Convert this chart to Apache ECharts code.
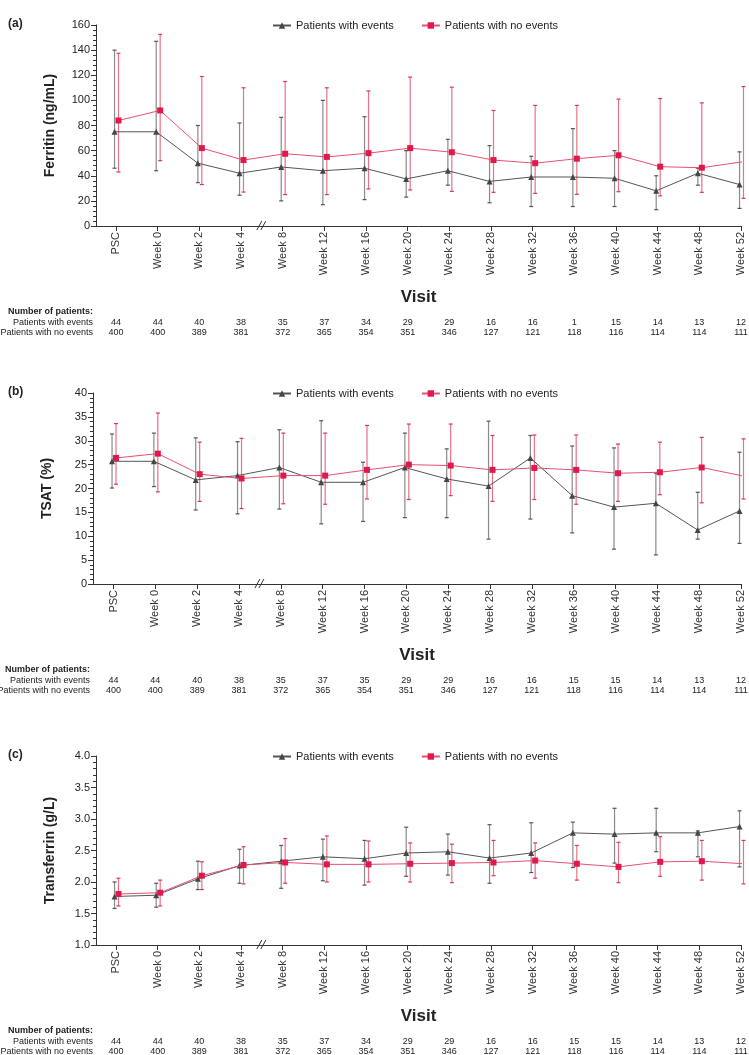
<!DOCTYPE html>
<html>
<head>
<meta charset="utf-8">
<script src="https://cdn.jsdelivr.net/npm/echarts@6/dist/echarts.min.js"></script>
<style>
html,body{margin:0;padding:0;background:#fff;}
#chart{width:749px;height:1055px;}
</style>
</head>
<body>
<div id="chart"></div>
<script>
const visits = ['PSC','Week 0','Week 2','Week 4','Week 8','Week 12','Week 16','Week 20','Week 24','Week 28','Week 32','Week 36','Week 40','Week 44','Week 48','Week 52'];
const seriesEvents = 'Patients with events';
const seriesNoEvents = 'Patients with no events';

// (a) Ferritin (ng/mL)
const ferEvMean = [75,75,50,42,47,44,46,37.5,44,35.5,39,39,38,28,42,33];
const ferEvLow  = [46,44,34.5,24.5,20,17,21,23,32.5,18.5,15.5,15.5,15.5,13,32.5,14];
const ferEvHigh = [140,147,80,82,86.5,100,87,60,69,64,55.5,77.5,60,40,46,59];
const ferNoMean = [84,92,62,52.5,57.5,55,58,62,58.7,52.5,50,53.6,56.3,47.2,46.4,51.2];
const ferNoLow  = [43,52,33,27,25,25,29.5,28.7,27.6,26.8,26,25.2,27.3,24,26.8,22];
const ferNoHigh = [137.5,152.5,119,110,115,110,107.5,118.5,110.5,92,96,96,101,101.5,98,111];

// (b) TSAT (%)
const tsEvMean = [25.7,25.7,21.8,22.7,24.4,21.3,21.3,24.4,22.0,20.5,26.4,18.5,16.1,16.9,11.3,15.3];
const tsEvLow  = [20.1,20.4,15.5,14.7,15.7,12.6,13.1,13.9,13.9,9.4,13.6,10.7,7.3,6.1,9.4,8.5];
const tsEvHigh = [31.4,31.6,30.6,29.8,32.3,34.2,25.5,31.6,28.3,34.1,31.1,28.9,28.5,23.2,19.2,27.6];
const tsNoMean = [26.4,27.3,23.0,22.1,22.7,22.7,23.9,25.0,24.8,23.9,24.3,23.9,23.2,23.4,24.4,22.6];
const tsNoLow  = [20.9,19.3,17.3,15.8,16.8,16.7,17.8,17.7,18.5,17.3,17.7,16.7,17.3,18.7,17.0,17.8];
const tsNoHigh = [33.6,35.8,29.7,30.5,31.6,31.6,33.2,33.5,33.5,31.1,31.2,31.2,29.3,29.7,30.7,30.4];

// (c) Transferrin (g/L)
const trEvMean = [1.77,1.79,2.05,2.26,2.33,2.40,2.37,2.46,2.48,2.38,2.46,2.78,2.76,2.78,2.78,2.88];
const trEvLow  = [1.58,1.60,1.88,1.98,1.90,2.02,1.95,2.09,2.11,1.98,2.15,2.23,2.30,2.48,2.40,2.24];
const trEvHigh = [2.00,1.98,2.33,2.52,2.58,2.68,2.66,2.87,2.76,2.91,2.94,2.95,3.17,3.17,2.81,3.13];
const trNoMean = [1.81,1.83,2.10,2.27,2.31,2.28,2.28,2.29,2.30,2.31,2.34,2.29,2.24,2.32,2.33,2.29];
const trNoLow  = [1.62,1.62,1.88,1.97,1.98,2.00,2.00,2.00,1.99,2.10,2.06,2.03,1.99,2.09,2.03,1.97];
const trNoHigh = [2.06,2.03,2.32,2.56,2.69,2.73,2.65,2.62,2.60,2.66,2.62,2.58,2.63,2.72,2.66,2.66];

// Number of patients
const nEventsA = [44,44,40,38,35,37,34,29,29,16,16,1,15,14,13,12];
const nNoEventsA = [400,400,389,381,372,365,354,351,346,127,121,118,116,114,114,111];
const nEventsB = [44,44,40,38,35,37,35,29,29,16,16,15,15,14,13,12];
const nNoEventsB = [400,400,389,381,372,365,354,351,346,127,121,118,116,114,114,111];
const nEventsC = [44,44,40,38,35,37,34,29,29,16,16,15,15,14,13,12];
const nNoEventsC = [400,400,389,381,372,365,354,351,346,127,121,118,116,114,114,111];

// y-axis tick settings
const yTicksA = {min:0, max:160, interval:20};
const yTicksB = {min:0, max:40, interval:5};
const yTicksC = {min:1.0, max:4.0, interval:0.5};

const FONT = 'Liberation Sans, Arial, sans-serif';
const NARROW = 'Liberation Sans Narrow, Arial Narrow, Liberation Sans, sans-serif';
const GRAY_LINE = '#555555', GRAY_MARK = '#454545', GRAY_ERR = '#8a8a8a';
const RED_LINE = '#e5506f', RED_MARK = '#e0184b', RED_ERR = '#e8708a';
const idx = visits.map((v,i)=>i);

const panels = [
  {tag:'(a)', top:25, height:201, left:96, xmin:-0.48, yname:'Ferritin (ng/mL)', yt:yTicksA, dec:0,
   ev:[ferEvMean,ferEvLow,ferEvHigh], no:[ferNoMean,ferNoLow,ferNoHigh], nE:nEventsA, nN:nNoEventsA},
  {tag:'(b)', top:393, height:191, left:93, xmin:-0.49, yname:'TSAT (%)', yt:yTicksB, dec:0,
   ev:[tsEvMean,tsEvLow,tsEvHigh], no:[tsNoMean,tsNoLow,tsNoHigh], nE:nEventsB, nN:nNoEventsB},
  {tag:'(c)', top:756, height:189, left:96, xmin:-0.48, yname:'Transferrin (g/L)', yt:yTicksC, dec:1,
   ev:[trEvMean,trEvLow,trEvHigh], no:[trNoMean,trNoLow,trNoHigh], nE:nEventsC, nN:nNoEventsC}
];

function errRender(color, capColor){
  return function(params, api){
    const x = api.value(0), lo = api.value(1), hi = api.value(2);
    const a = api.coord([x, lo]), b = api.coord([x, hi]);
    const w = 2;
    return {type:'group', children:[
      {type:'line', shape:{x1:a[0],y1:a[1],x2:b[0],y2:b[1]}, style:{stroke:color, lineWidth:1.2}},
      {type:'line', shape:{x1:a[0]-w,y1:a[1],x2:a[0]+w,y2:a[1]}, style:{stroke:capColor, lineWidth:1.2}},
      {type:'line', shape:{x1:b[0]-w,y1:b[1],x2:b[0]+w,y2:b[1]}, style:{stroke:capColor, lineWidth:1.2}}
    ]};
  };
}
function breakRender(params, api){
  const p = api.coord([api.value(0), api.value(1)]);
  return {type:'group', children:[
    {type:'line', shape:{x1:p[0]-5,y1:p[1]+4,x2:p[0]+0,y2:p[1]-5}, style:{stroke:'#333', lineWidth:1}},
    {type:'line', shape:{x1:p[0]-1,y1:p[1]+4,x2:p[0]+4,y2:p[1]-5}, style:{stroke:'#333', lineWidth:1}}
  ]};
}

const option = {animation:false, backgroundColor:'#fff', textStyle:{fontFamily:FONT},
  grid:[], xAxis:[], yAxis:[], series:[], legend:[], graphic:[]};

panels.forEach((P,k)=>{
  option.grid.push({left:P.left, right:8, top:P.top, height:P.height, containLabel:false, outerBoundsMode:'none'});
  const base = {gridIndex:k, type:'value', min:P.xmin, max:15, splitLine:{show:false}};
  option.xAxis.push(Object.assign({}, base, {
    axisLine:{onZero:false, lineStyle:{color:'#333', width:1}},
    axisTick:{customValues:idx, length:5, lineStyle:{color:'#333'}},
    axisLabel:{customValues:idx, rotate:90, margin:6, fontSize:11, color:'#333', fontFamily:FONT,
      formatter:v=>visits[Math.round(v)]},
    name:'Visit', nameLocation:'middle', nameGap:63,
    nameTextStyle:{fontWeight:'bold', fontSize:17, color:'#222', fontFamily:FONT}
  }));
  const countAxis = (offset, name, arr, bold) => Object.assign({}, base, {
    position:'bottom', offset:offset,
    axisLine:{show:false, onZero:false}, axisTick:{show:false},
    axisLabel:{show:!!arr, customValues:idx, margin:0, verticalAlign:'middle', fontSize:9, color:'#222',
      fontFamily:NARROW, formatter:v=>arr ? String(arr[Math.round(v)]) : ''},
    name:name, nameLocation:'start', nameGap:3,
    nameTextStyle:{fontSize:9, color:'#222', fontFamily:NARROW, fontWeight:bold?'bold':'normal',
      align:'right', verticalAlign:'middle'}
  });
  option.xAxis.push(countAxis(86, 'Number of patients:', null, true));
  option.xAxis.push(countAxis(97, 'Patients with events', P.nE, false));
  option.xAxis.push(countAxis(107, 'Patients with no events', P.nN, false));

  option.yAxis.push({gridIndex:k, type:'value', min:P.yt.min, max:P.yt.max, interval:P.yt.interval,
    splitLine:{show:false},
    axisLine:{show:true, onZero:false, lineStyle:{color:'#333', width:1}},
    axisTick:{show:true, length:5, lineStyle:{color:'#333'}},
    minorTick:{show:true, splitNumber:5, length:3, lineStyle:{color:'#333'}},
    axisLabel:{fontSize:11, color:'#222', margin:6, fontFamily:FONT, formatter:v=>v.toFixed(P.dec)},
    name:P.yname, nameLocation:'middle', nameGap:39,
    nameTextStyle:{fontWeight:'bold', fontSize:14, color:'#222', fontFamily:FONT}
  });

  const xi = k*4;
  const evX = i => i - 0.035, noX = i => i + 0.06;
  option.series.push({type:'custom', name:'evErr'+k, xAxisIndex:xi, yAxisIndex:k, clip:false, z:2,
    renderItem:errRender(GRAY_ERR, '#555'),
    data: idx.map(i=>[evX(i), P.ev[1][i], P.ev[2][i]])});
  option.series.push({type:'custom', name:'noErr'+k, xAxisIndex:xi, yAxisIndex:k, clip:false, z:2,
    renderItem:errRender(RED_ERR, '#d8385f'),
    data: idx.map(i=>[noX(i), P.no[1][i], P.no[2][i]])});
  option.series.push({type:'line', name:seriesEvents, xAxisIndex:xi, yAxisIndex:k, z:3,
    symbol:'triangle', symbolSize:6, showAllSymbol:true,
    lineStyle:{color:GRAY_LINE, width:1}, itemStyle:{color:GRAY_MARK},
    data: idx.map(i=>[evX(i), P.ev[0][i]])});
  option.series.push({type:'line', name:seriesNoEvents, xAxisIndex:xi, yAxisIndex:k, z:4,
    symbol:'rect', symbolSize:6, showAllSymbol:true,
    lineStyle:{color:RED_LINE, width:1}, itemStyle:{color:RED_MARK},
    data: idx.map(i=>[noX(i), P.no[0][i]])});
  option.series.push({type:'custom', name:'break'+k, xAxisIndex:xi, yAxisIndex:k, clip:false, z:5,
    renderItem:breakRender, data:[[3.5, P.yt.min]]});

  option.legend.push({left:272, top:P.top-5, padding:0, itemWidth:18, itemHeight:8, itemGap:27,
    data:[seriesEvents, seriesNoEvents], selectedMode:false,
    textStyle:{fontSize:11, color:'#222', fontFamily:FONT}});
  option.graphic.push({type:'text', left:8, top:P.top-7,
    style:{text:P.tag, font:'bold 12px '+FONT, fill:'#222'}});
});

const chart = echarts.init(document.getElementById('chart'), null, {renderer:'canvas'});
chart.setOption(option);
</script>
</body>
</html>
